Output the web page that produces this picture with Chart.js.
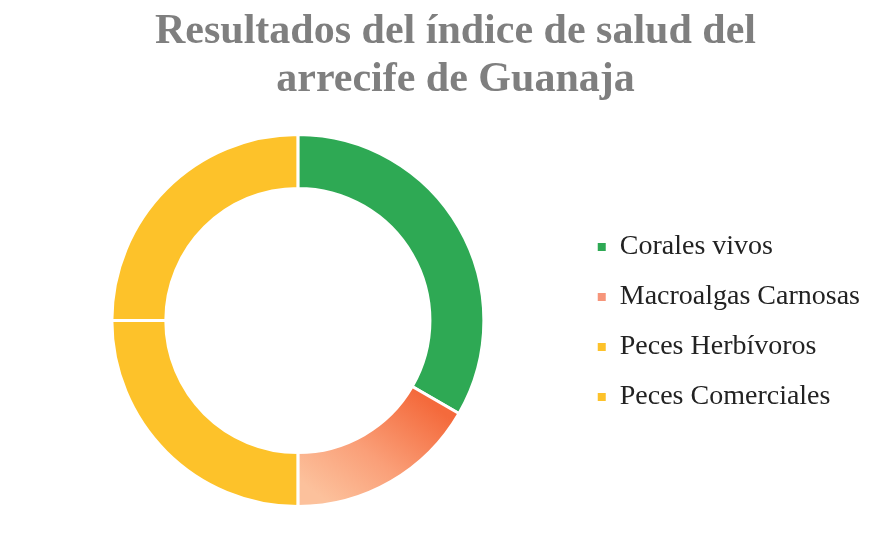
<!DOCTYPE html>
<html>
<head>
<meta charset="utf-8">
<script src="https://cdn.jsdelivr.net/npm/chart.js@4.4.1/dist/chart.umd.min.js"></script>
<style>
  html, body { margin: 0; padding: 0; background: #fff; }
  #wrap { width: 880px; height: 533px; }
</style>
</head>
<body>
<div id="wrap"><canvas id="reef"></canvas></div>
<script>
const titleLines = ['  Resultados del índice de salud del', '  arrecife de Guanaja'];
const categories = ['Corales vivos', 'Macroalgas Carnosas', 'Peces Herbívoros', 'Peces Comerciales'];
const scores = [4, 2, 3, 3];
const solidColors = ['#2ea954', '#f6957a', '#fdc22a', '#fdc22a'];

// orange slice fades from red-orange to peach
function sliceColor(ctx) {
  const i = ctx.dataIndex;
  if (i !== 1) return solidColors[i];
  const area = ctx.chart.chartArea;
  if (!area) return solidColors[i];
  const cx = (area.left + area.right) / 2;
  const cy = (area.top + area.bottom) / 2;
  const r = Math.min(area.right - area.left, area.bottom - area.top) / 2;
  const g = ctx.chart.ctx.createLinearGradient(cx + r * 0.65, cy + r * 0.4, cx + r * 0.2, cy + r);
  g.addColorStop(0, '#f46a3c');
  g.addColorStop(0.55, '#fa9f78');
  g.addColorStop(1, '#fcc19c');
  return g;
}

const dataReef = {
  labels: categories,
  datasets: [{
    data: scores,
    backgroundColor: sliceColor,
    borderColor: '#fff',
    borderWidth: 3,
    hoverOffset: 0
  }]
};

const configReef = {
  type: 'doughnut',
  data: dataReef,
  options: {
    responsive: true,
    maintainAspectRatio: false,
    animation: false,
    cutout: '71%',
    layout: {
      padding: { left: 20, right: 10, top: 0, bottom: 25 }
    },
    plugins: {
      title: {
        display: true,
        text: titleLines,
        color: '#7f7f7f',
        font: { family: '"Liberation Serif", serif', size: 42, weight: 'bold', lineHeight: '48px' },
        padding: { top: 8, bottom: 29 }
      },
      legend: {
        position: 'right',
        title: { display: true, text: '', font: { size: 10 }, padding: 62 },
        labels: {
          color: '#222',
          boxWidth: 8,
          boxHeight: 8,
          padding: 22,
          font: { family: '"Liberation Serif", serif', size: 28 },
          generateLabels: (chart) => {
            const items = Chart.overrides.doughnut.plugins.legend.labels.generateLabels(chart);
            items.forEach((it, i) => { it.fillStyle = solidColors[i]; it.strokeStyle = solidColors[i]; it.lineWidth = 0; });
            return items;
          }
        }
      },
      tooltip: { enabled: false }
    }
  }
};

const reefChart = new Chart(document.getElementById('reef'), configReef);
</script>
</body>
</html>
